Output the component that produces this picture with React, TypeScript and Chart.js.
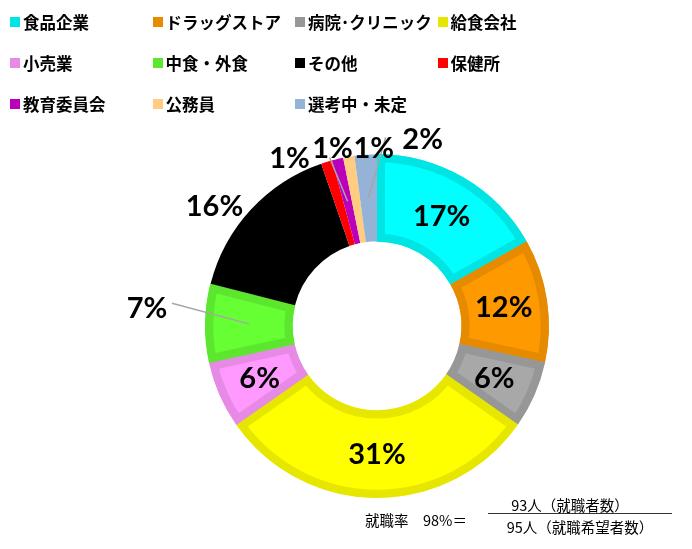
import React, { useEffect, useRef } from "react";
import { Chart, registerables } from "chart.js";

Chart.register(...registerables);

// ---- data ----
const categories = [
  "食品企業",
  "ドラッグストア",
  "病院･クリニック",
  "給食会社",
  "小売業",
  "中食・外食",
  "その他",
  "保健所",
  "教育委員会",
  "公務員",
  "選考中・未定",
];
const counts = [16, 11, 6, 29, 6, 7, 15, 1, 1, 1, 2];
const fillColors = [
  "#00FFFF",
  "#FF9900",
  "#A8A8A8",
  "#FFFF00",
  "#FF99FF",
  "#66FF33",
  "#000000",
  "#FF0000",
  "#BB00BB",
  "#FFCC80",
  "#95B3D7",
];
const edgeColors = [
  "#00E4E4",
  "#E68A00",
  "#979797",
  "#E6E600",
  "#E68AE6",
  "#5CE62E",
  "#000000",
  "#FF0000",
  "#BB00BB",
  "#FFCC80",
  "#95B3D7",
];
const edgeWidths = [8, 8, 8, 8, 8, 8, 0, 0, 0, 0, 0];
const employedCount = 93;
const applicantCount = 95;

const total = counts.reduce((a, b) => a + b, 0);
const percentLabels = counts.map((c) => `${Math.round((c / total) * 100)}%`);

// labels placed outside the ring: offset from the outer-edge point at the slice's mid angle
const outsideLabels: Record<number, { dx: number; dy: number; leader?: [number, number] }> = {
  5: { dx: -58, dy: -16, leader: [25, -4] },
  6: { dx: -36, dy: -4 },
  7: { dx: -37, dy: -4 },
  8: { dx: -5, dy: -11, leader: [-3, 10] },
  9: { dx: 25, dy: -9 },
  10: { dx: 57, dy: -16, leader: [-37, -1] },
};

const labelPlugin = {
  id: "sliceLabels",
  afterDatasetsDraw(chart: any) {
    const ctx = chart.ctx;
    const meta = chart.getDatasetMeta(0);
    const items: { x: number; y: number; text: string }[] = [];
    ctx.save();
    meta.data.forEach((arc: any, i: number) => {
      const p = arc.getProps(["x", "y", "startAngle", "endAngle", "innerRadius", "outerRadius"], true);
      const mid = (p.startAngle + p.endAngle) / 2;
      const midR = (p.innerRadius + p.outerRadius) / 2;
      const spec = outsideLabels[i];
      let lx: number, ly: number;
      if (spec) {
        lx = p.x + Math.cos(mid) * p.outerRadius + spec.dx;
        ly = p.y + Math.sin(mid) * p.outerRadius + spec.dy;
        if (spec.leader) {
          ctx.strokeStyle = "#A6A6A6";
          ctx.lineWidth = 1.5;
          ctx.beginPath();
          ctx.moveTo(lx + spec.leader[0], ly + spec.leader[1]);
          ctx.lineTo(p.x + Math.cos(mid) * midR, p.y + Math.sin(mid) * midR);
          ctx.stroke();
        }
      } else {
        lx = p.x + Math.cos(mid) * midR;
        ly = p.y + Math.sin(mid) * midR;
      }
      items.push({ x: lx, y: ly, text: percentLabels[i] });
    });
    ctx.fillStyle = "#000000";
    ctx.font = "bold 29px Lato, 'Open Sans', sans-serif";
    ctx.textAlign = "center";
    ctx.textBaseline = "middle";
    items.forEach((t) => ctx.fillText(t.text, t.x, t.y + 1));
    ctx.restore();
  },
};

const jpFont = "'Noto Sans CJK JP', 'Noto Sans', sans-serif";

export default function App() {
  const canvasRef = useRef<HTMLCanvasElement | null>(null);

  useEffect(() => {
    if (!canvasRef.current) return;
    const chart = new Chart(canvasRef.current, {
      type: "doughnut",
      data: {
        labels: categories,
        datasets: [
          {
            data: counts,
            backgroundColor: fillColors,
            borderColor: edgeColors,
            borderWidth: edgeWidths,
            borderAlign: "inner",
          } as any,
        ],
      },
      options: {
        responsive: false,
        animation: false,
        cutout: "49%",
        layout: { padding: { left: 205, right: 143, top: 154, bottom: 51 } },
        plugins: {
          legend: { display: false },
          tooltip: { enabled: false },
        },
      },
      plugins: [labelPlugin],
    });
    return () => chart.destroy();
  }, []);

  return (
    <div
      style={{
        position: "absolute",
        left: 0,
        top: 0,
        width: 692,
        height: 549,
        background: "#FFFFFF",
        overflow: "hidden",
      }}
    >
      <canvas ref={canvasRef} width={692} height={549} style={{ position: "absolute", left: 0, top: 0 }} />
      {categories.map((name, i) => {
        const col = i % 4;
        const row = Math.floor(i / 4);
        return (
          <div
            key={name}
            style={{
              position: "absolute",
              left: 10 + col * 142.5,
              top: 12 + row * 41,
              height: 20,
              display: "flex",
              alignItems: "center",
              fontFamily: jpFont,
              fontWeight: 700,
              fontSize: 16.5,
              whiteSpace: "nowrap",
              color: "#000",
            }}
          >
            <span
              style={{
                display: "inline-block",
                width: 10,
                height: 10,
                background: edgeColors[i],
                marginRight: 3,
              }}
            />
            <span style={{ lineHeight: "20px" }}>{name}</span>
          </div>
        );
      })}
      <div
        style={{
          position: "absolute",
          left: 365,
          top: 511,
          lineHeight: "18px",
          fontFamily: jpFont,
          fontSize: 14.5,
          color: "#000",
          whiteSpace: "nowrap",
        }}
      >
        {"就職率　" + Math.round((employedCount / applicantCount) * 100) + "%＝"}
      </div>
      <div
        style={{
          position: "absolute",
          left: 488,
          width: 164,
          top: 496,
          lineHeight: "18px",
          textAlign: "center",
          fontFamily: jpFont,
          fontSize: 14.5,
          color: "#000",
          whiteSpace: "nowrap",
        }}
      >
        {employedCount + "人（就職者数）"}
      </div>
      <div
        style={{
          position: "absolute",
          left: 488,
          width: 184,
          top: 513,
          height: 0,
          borderTop: "1.5px solid #333",
        }}
      />
      <div
        style={{
          position: "absolute",
          left: 488,
          width: 184,
          top: 518,
          lineHeight: "18px",
          textAlign: "center",
          fontFamily: jpFont,
          fontSize: 14.5,
          color: "#000",
          whiteSpace: "nowrap",
        }}
      >
        {applicantCount + "人（就職希望者数）"}
      </div>
    </div>
  );
}
